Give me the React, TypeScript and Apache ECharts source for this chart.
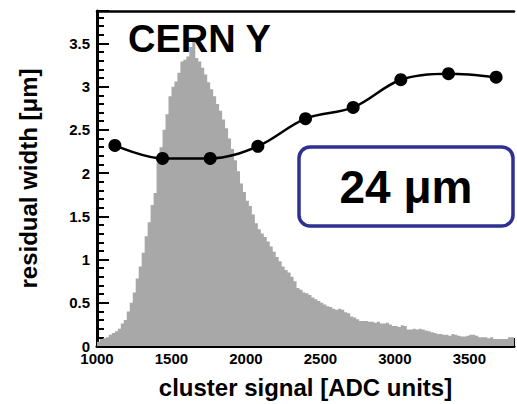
import React, { useEffect, useRef } from "react";
import * as echarts from "echarts";

// Histogram of cluster signal (arbitrary normalisation), 20 ADC bins from 1000
const histStart = 1000;
const histBinWidth = 20;
const histCounts = [
  0.05, 0.08, 0.09, 0.10, 0.13, 0.15, 0.17, 0.20, 0.26, 0.30,
  0.40, 0.50, 0.62, 0.78, 0.92, 1.08, 1.27, 1.43, 1.63, 1.77,
  2.12, 2.30, 2.50, 2.68, 2.89, 3.00, 3.06, 3.16, 3.29, 3.31,
  3.35, 3.46, 3.52, 3.33, 3.29, 3.22, 3.14, 3.05, 2.97, 2.89,
  2.80, 2.72, 2.62, 2.52, 2.40, 2.28, 2.15, 2.02, 1.88, 1.78,
  1.68, 1.62, 1.52, 1.42, 1.35, 1.30, 1.26, 1.21, 1.15, 1.09,
  1.03, 0.98, 0.92, 0.88, 0.85, 0.80, 0.75, 0.67, 0.65, 0.62,
  0.61, 0.59, 0.56, 0.54, 0.52, 0.50, 0.48, 0.46, 0.45, 0.43,
  0.42, 0.43, 0.42, 0.39, 0.38, 0.34, 0.33, 0.31, 0.29, 0.29,
  0.29, 0.28, 0.28, 0.27, 0.28, 0.26, 0.26, 0.27, 0.25, 0.23,
  0.23, 0.22, 0.24, 0.23, 0.19, 0.19, 0.20, 0.19, 0.20, 0.19,
  0.18, 0.17, 0.16, 0.15, 0.14, 0.14, 0.13, 0.13, 0.12, 0.14,
  0.13, 0.12, 0.11, 0.11, 0.12, 0.13, 0.13, 0.12, 0.10, 0.10,
  0.10, 0.09, 0.10, 0.08, 0.08, 0.08, 0.08, 0.08, 0.10, 0.10,
];

// Residual width vs cluster signal
const signalADC = [1120, 1440, 1760, 2080, 2400, 2720, 3040, 3360, 3680];
const residualWidth = [2.32, 2.17, 2.17, 2.31, 2.63, 2.76, 3.08, 3.15, 3.11];

const titleText = "CERN Y";
const boxText = "24 μm";
const xAxisName = "cluster signal [ADC units]";
const yAxisName = "residual width [μm]";

const FONT = "'Liberation Sans', Arial, Helvetica, sans-serif";

export default function App() {
  const ref = useRef<HTMLDivElement>(null);

  useEffect(() => {
    if (!ref.current) return;
    const chart = echarts.init(ref.current, null, { renderer: "svg" });

    const histData: [number, number][] = histCounts.map((v, i) => [
      histStart + i * histBinWidth,
      v,
    ]);
    histData.push([
      histStart + histCounts.length * histBinWidth,
      histCounts[histCounts.length - 1],
    ]);

    const lineData = signalADC.map((x, i) => [x, residualWidth[i]]);

    const tickLabelStyle = {
      color: "#000",
      fontFamily: FONT,
      fontWeight: "bold" as const,
      fontSize: 15,
    };

    chart.setOption({
      animation: false,
      backgroundColor: "#fff",
      grid: { left: 97, top: 11, right: -9, bottom: 57, containLabel: false },
      xAxis: [
        {
          type: "value",
          min: 1000,
          max: 3800,
          interval: 500,
          name: xAxisName,
          nameLocation: "middle",
          nameGap: 41,
          nameTextStyle: {
            color: "#000",
            fontFamily: FONT,
            fontWeight: "bold",
            fontSize: 24,
            align: "center",
            verticalAlign: "middle",
          },
          axisLine: { show: true, onZero: false, lineStyle: { color: "#000", width: 3 } },
          axisTick: { show: true, inside: true, length: 8, lineStyle: { color: "#000", width: 2 } },
          minorTick: { show: true, splitNumber: 5, length: 4, lineStyle: { color: "#000", width: 2 } },
          axisLabel: {
            ...tickLabelStyle,
            margin: 5,
            formatter: (v: number) => (v % 500 === 0 ? String(v) : ""),
          },
          splitLine: { show: false },
        },
        {
          type: "value",
          position: "top",
          min: 1000,
          max: 3800,
          axisLine: { show: true, onZero: false, lineStyle: { color: "#000", width: 2.5 } },
          axisTick: { show: false },
          axisLabel: { show: false },
          splitLine: { show: false },
        },
      ],
      yAxis: {
        type: "value",
        min: 0,
        max: 3.875,
        interval: 0.5,
        name: yAxisName,
        nameLocation: "middle",
        nameGap: 69,
        nameRotate: 90,
        nameTextStyle: {
          color: "#000",
          fontFamily: FONT,
          fontWeight: "bold",
          fontSize: 24,
          align: "center",
          verticalAlign: "middle",
        },
        axisLine: { show: true, onZero: false, lineStyle: { color: "#000", width: 3 } },
        axisTick: { show: true, inside: true, length: 12, lineStyle: { color: "#000", width: 2 } },
        minorTick: { show: true, splitNumber: 5, length: 7, lineStyle: { color: "#000", width: 2 } },
        axisLabel: {
          ...tickLabelStyle,
          margin: 7,
          formatter: (v: number) =>
            Math.abs(v / 0.5 - Math.round(v / 0.5)) < 1e-6 ? String(v) : "",
        },
        splitLine: { show: false },
      },
      series: [
        {
          type: "line",
          xAxisIndex: 0,
          data: histData,
          step: "end",
          symbol: "none",
          lineStyle: { width: 0, color: "#a8a8a8" },
          areaStyle: { color: "#a8a8a8", opacity: 1, origin: 0 },
          z: 1,
          silent: true,
        },
        {
          type: "line",
          xAxisIndex: 0,
          data: lineData,
          smooth: 0.35,
          symbol: "circle",
          symbolSize: 13,
          itemStyle: { color: "#000" },
          lineStyle: { color: "#000", width: 2.5 },
          z: 3,
        },
      ],
      graphic: [
        {
          type: "text",
          x: 128,
          y: 39,
          z: 10,
          style: {
            text: titleText,
            fill: "#000",
            font: `bold 38px ${FONT}`,
            align: "left",
            verticalAlign: "middle",
          },
        },
        {
          type: "rect",
          z: 10,
          shape: { x: 299, y: 147, width: 214, height: 79, r: 11 },
          style: { fill: "#fff", stroke: "#2e3192", lineWidth: 3.5 },
        },
        {
          type: "text",
          x: 406,
          y: 187,
          z: 11,
          style: {
            text: boxText,
            fill: "#000",
            font: `bold 46px ${FONT}`,
            align: "center",
            verticalAlign: "middle",
          },
        },
      ],
    });

    return () => chart.dispose();
  }, []);

  return (
    <div
      ref={ref}
      style={{ position: "fixed", left: 0, top: 0, width: 517, height: 404 }}
    />
  );
}
